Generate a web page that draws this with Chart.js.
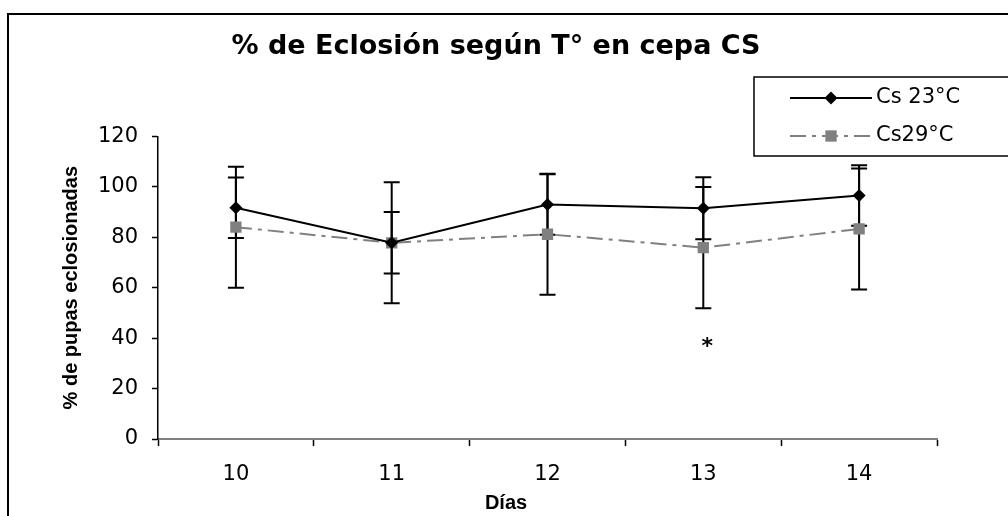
<!DOCTYPE html>
<html>
<head>
<meta charset="utf-8">
<script src="https://cdn.jsdelivr.net/npm/chart.js@4.4.0/dist/chart.umd.min.js"></script>
<style>
  html, body { margin: 0; padding: 0; background: #fff; }
  #wrap { position: relative; width: 1008px; height: 516px; overflow: hidden; }
  #marco { position: absolute; left: 7px; top: 13px; width: 1030px; height: 540px; border: 2px solid #000; }
  #chart { position: absolute; left: 0; top: 0; }
</style>
</head>
<body>
<div id="wrap">
  <div id="marco"></div>
  <canvas id="chart" width="1008" height="516"></canvas>
</div>
<script>
// dias de observacion
var dias = ["10", "11", "12", "13", "14"];

// % de pupas eclosionadas y desviacion
var cs23 = [91.7, 77.8, 93.0, 91.5, 96.6];
var cs23Err = [12, 12.2, 12, 12.3, 12];
var cs29 = [84.0, 77.8, 81.2, 75.9, 83.3];
var cs29Err = [24, 24, 24, 24, 24];

var nombres = ["Cs 23°C", "Cs29°C"];

// marca de diferencia significativa
var asteriscoDia = "13";
var asteriscoValor = 37;

var fuente = "DejaVu Sans";

// barras de error (negras para las dos series)
var barrasError = {
  id: "barrasError",
  beforeDatasetsDraw: function (chart) {
    var ctx = chart.ctx, y = chart.scales.y;
    ctx.save();
    ctx.strokeStyle = "#000";
    ctx.lineWidth = 2;
    chart.data.datasets.forEach(function (ds, i) {
      chart.getDatasetMeta(i).data.forEach(function (pt, j) {
        var arriba = y.getPixelForValue(ds.data[j] + ds.errores[j]);
        var abajo = y.getPixelForValue(ds.data[j] - ds.errores[j]);
        ctx.beginPath();
        ctx.moveTo(pt.x, arriba); ctx.lineTo(pt.x, abajo);
        ctx.moveTo(pt.x - 8, arriba); ctx.lineTo(pt.x + 8, arriba);
        ctx.moveTo(pt.x - 8, abajo); ctx.lineTo(pt.x + 8, abajo);
        ctx.stroke();
      });
    });
    ctx.restore();
  },
  afterDatasetsDraw: function (chart) {
    var ctx = chart.ctx;
    ctx.save();
    ctx.fillStyle = "#000";
    ctx.font = "bold 22px '" + fuente + "'";
    ctx.textAlign = "center";
    ctx.textBaseline = "middle";
    ctx.fillText("*", chart.scales.x.getPixelForValue(dias.indexOf(asteriscoDia)) + 4,
      chart.scales.y.getPixelForValue(asteriscoValor) + 2);
    ctx.restore();
  }
};

// leyenda con recuadro, linea y marcador; titulo del eje x centrado en el grafico
var leyenda = {
  id: "leyenda",
  afterDraw: function (chart) {
    var ctx = chart.ctx;
    ctx.save();
    ctx.fillStyle = "#000";
    ctx.font = "bold 20px 'Liberation Sans'";
    ctx.textAlign = "center";
    ctx.textBaseline = "middle";
    ctx.fillText("Días", 506, 503);

    ctx.fillStyle = "#fff";
    ctx.fillRect(754, 77, 260, 79);
    ctx.strokeStyle = "#000";
    ctx.lineWidth = 1.5;
    ctx.strokeRect(754, 77, 260, 79);
    chart.data.datasets.forEach(function (ds, i) {
      var fy = 98 + i * 38;
      ctx.strokeStyle = ds.borderColor;
      ctx.lineWidth = ds.borderWidth;
      ctx.setLineDash(ds.borderDash || []);
      ctx.beginPath();
      ctx.moveTo(790, fy); ctx.lineTo(872, fy);
      ctx.stroke();
      ctx.setLineDash([]);
      ctx.fillStyle = ds.pointBackgroundColor;
      ctx.beginPath();
      if (ds.pointStyle === "rectRot") {
        var r = ds.pointRadius;
        ctx.moveTo(831 - r, fy); ctx.lineTo(831, fy - r);
        ctx.lineTo(831 + r, fy); ctx.lineTo(831, fy + r);
        ctx.closePath();
      } else {
        var s = ds.pointRadius * Math.SQRT1_2;
        ctx.rect(831 - s, fy - s, 2 * s, 2 * s);
      }
      ctx.fill();
      ctx.fillStyle = "#000";
      ctx.font = "21px '" + fuente + "'";
      ctx.textAlign = "left";
      ctx.textBaseline = "middle";
      ctx.fillText(ds.label, 876, fy);
    });
    ctx.restore();
  }
};

new Chart(document.getElementById("chart"), {
  type: "line",
  data: {
    labels: dias,
    datasets: [
      {
        label: nombres[0],
        data: cs23,
        errores: cs23Err,
        borderColor: "#000",
        borderWidth: 2,
        pointStyle: "rectRot",
        pointRadius: 6.5,
        pointBackgroundColor: "#000",
        pointBorderColor: "#000",
        pointBorderWidth: 0,
        tension: 0
      },
      {
        label: nombres[1],
        data: cs29,
        errores: cs29Err,
        borderColor: "#808080",
        borderWidth: 2,
        borderDash: [16, 6, 4, 6],
        pointStyle: "rect",
        pointRadius: 8,
        pointBackgroundColor: "#808080",
        pointBorderColor: "#808080",
        pointBorderWidth: 0,
        tension: 0
      }
    ]
  },
  options: {
    responsive: false,
    animation: false,
    layout: { padding: { left: 55, right: 71, top: 0, bottom: 0 } },
    plugins: {
      legend: { display: false },
      tooltip: { enabled: false },
      title: {
        display: true,
        text: "% de Eclosión según T° en cepa CS",
        color: "#000",
        font: { family: fuente, weight: "bold", size: 27 },
        padding: { top: 31, bottom: 73 }
      }
    },
    scales: {
      x: {
        offset: true,
        grid: { offset: true, drawOnChartArea: false, color: "#000", tickLength: 7, tickWidth: 1.5 },
        border: { color: "#808080", width: 2 },
        ticks: { color: "#000", font: { family: fuente, size: 21 }, padding: 16 },
        afterFit: function (s) { s.height = 77; }
      },
      y: {
        min: 0,
        max: 120,
        grid: { drawOnChartArea: false, color: "#000", tickLength: 6, tickWidth: 1.5 },
        border: { color: "#000", width: 1.5 },
        ticks: { stepSize: 20, color: "#000", font: { family: fuente, size: 21 }, padding: 14 },
        title: {
          display: true,
          text: "% de pupas eclosionadas",
          color: "#000",
          font: { family: "Liberation Sans", weight: "bold", size: 20 },
          padding: { top: 4, bottom: 4 }
        },
        afterFit: function (s) { s.width = 103; }
      }
    }
  },
  plugins: [barrasError, leyenda]
});
</script>
</body>
</html>
